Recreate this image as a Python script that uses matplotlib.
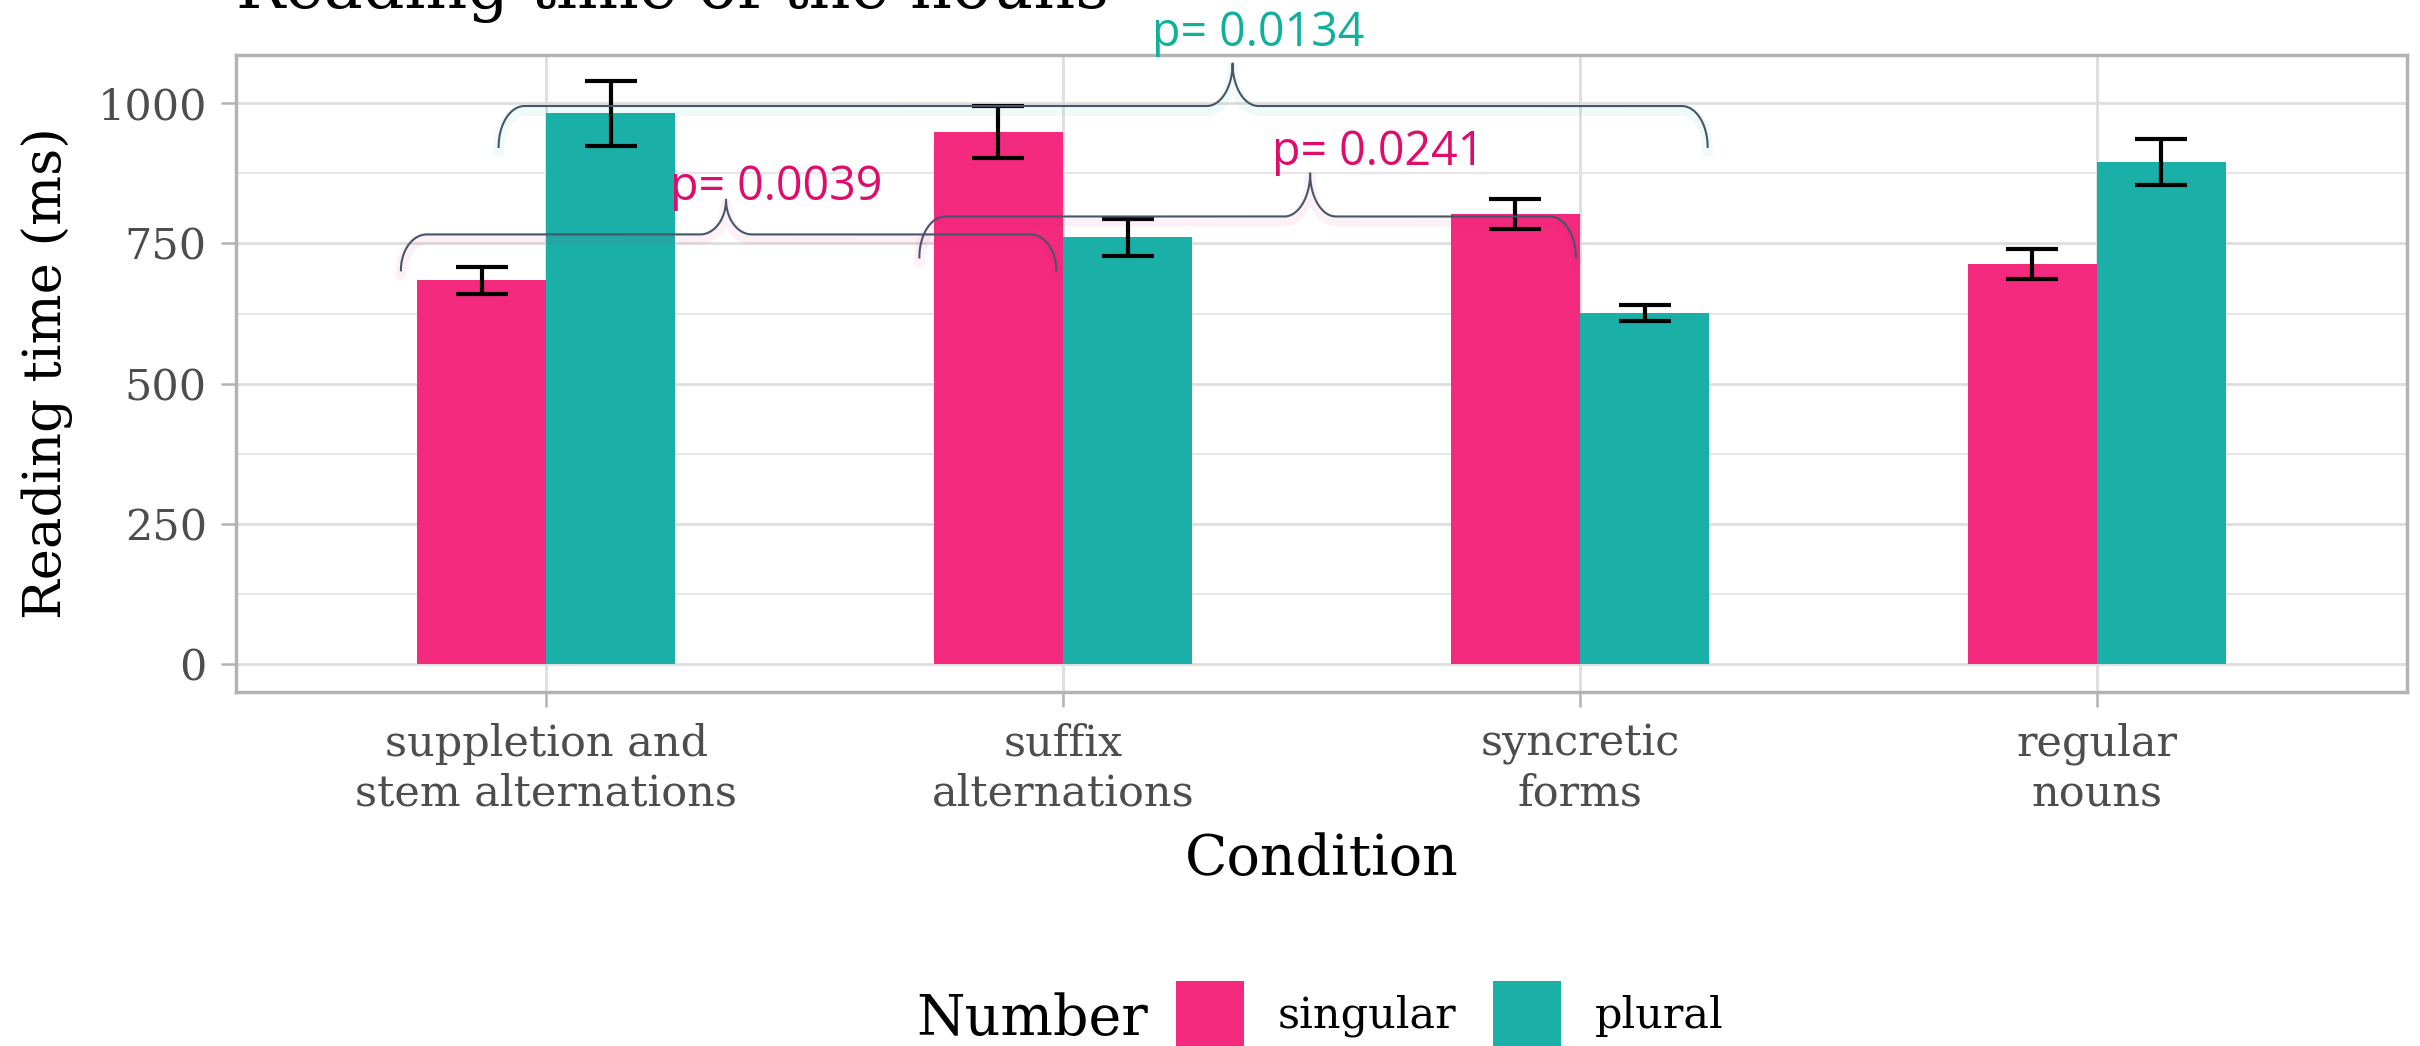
# reading time bar chart with p-value braces
import numpy as np
import matplotlib
matplotlib.use('Agg')
import matplotlib.pyplot as plt
from matplotlib.patches import Patch
from matplotlib.ticker import MultipleLocator

plt.rcParams['font.family'] = ['DejaVu Serif']

conditions = ['suppletion and\nstem alternations', 'suffix\nalternations',
              'syncretic\nforms', 'regular\nnouns']
number_levels = ['singular', 'plural']
singular_mean = [684, 949, 803, 713]
singular_se = [24, 46, 27, 27]
plural_mean = [982, 761, 626, 895]
plural_se = [58, 33, 14, 41]

# brace annotations: left end, right end, tip (x in category units), end / bar / tip heights
brace_labels = ['p= 0.0039', 'p= 0.0241', 'p= 0.0134']
brace_left = [0.719, 1.722, 0.908]
brace_right = [1.987, 2.992, 3.247]
brace_tip = [1.348, 2.478, 2.328]
brace_end_y = [702, 725, 922]
brace_bar_y = [766, 798, 995]
brace_tip_y = [828, 875, 1071]
label_x = [1.446, 2.61, 2.378]
label_y = [828, 889, 1102]

pink = '#F42A7F'
teal = '#1AAFA7'
pink_txt = '#DF0C6C'
teal_txt = '#10B09C'
label_colors = [pink_txt, pink_txt, teal_txt]
brace_col = '#46566B'


def brace_xy(x0, x1, xt, y_end, y_h, y_tip, dx=0.05):
	t = np.linspace(0, np.pi / 2, 40)
	xs = np.concatenate([
		x0 + dx - dx * np.cos(t),
		xt - dx + dx * np.sin(t),
		xt + dx * (1 - np.cos(t)),
		x1 - dx + dx * np.sin(t),
	])
	ys = np.concatenate([
		y_end + (y_h - y_end) * np.sin(t),
		y_tip - (y_tip - y_h) * np.cos(t),
		y_h + (y_tip - y_h) * (1 - np.sin(t)),
		y_end + (y_h - y_end) * np.cos(t),
	])
	return xs, ys


fig = plt.figure(figsize=(24.2, 10.46), dpi=100)
ax = fig.add_axes([236 / 2420, 1 - 692 / 1046, 2171 / 2420, 637 / 1046])

x = np.arange(1, len(conditions) + 1)
w = 0.25
ax.bar(x - w / 2, singular_mean, width=w, color=pink, zorder=3)
ax.bar(x + w / 2, plural_mean, width=w, color=teal, zorder=3)
ax.errorbar(x - w / 2, singular_mean, yerr=singular_se, fmt='none', ecolor='black',
            elinewidth=3.0, capsize=18.5, capthick=3.0, zorder=4)
ax.errorbar(x + w / 2, plural_mean, yerr=plural_se, fmt='none', ecolor='black',
            elinewidth=3.0, capsize=18.5, capthick=3.0, zorder=4)

for i in range(len(brace_labels)):
	bx, by = brace_xy(brace_left[i], brace_right[i], brace_tip[i],
	                  brace_end_y[i], brace_bar_y[i], brace_tip_y[i])
	# faint coloured shadow below the brace
	ax.plot(bx, by - 8, color=label_colors[i], lw=8, alpha=0.06, zorder=4,
	        clip_on=False, solid_capstyle='round')
	ax.plot(bx, by, color=brace_col, lw=1.5, zorder=5, clip_on=False)
	ax.text(label_x[i], label_y[i], brace_labels[i], color=label_colors[i],
	        family=['Open Sans', 'DejaVu Sans'], fontsize=33.5, ha='center',
	        va='baseline', zorder=6, clip_on=False)

ax.set_xlim(0.4, 4.6)
ax.set_ylim(-50, 1086)
ax.set_xticks(x)
ax.set_xticklabels(conditions, fontsize=31, color='#4D4D4D', linespacing=1.25)
ax.yaxis.set_major_locator(MultipleLocator(250))
ax.yaxis.set_minor_locator(MultipleLocator(125))
ax.tick_params(axis='y', which='major', labelsize=31, labelcolor='#4D4D4D',
               length=11, width=1.8, color='#B3B3B3', pad=10)
ax.tick_params(axis='x', which='major', length=11, width=1.8, color='#B3B3B3', pad=11)
ax.tick_params(axis='y', which='minor', length=0)

ax.grid(True, which='major', color='#DEDEDE', lw=2.0, zorder=0)
ax.grid(True, which='minor', axis='y', color='#E6E6E6', lw=1.4, zorder=0)
ax.set_axisbelow(True)
for s in ax.spines.values():
	s.set_color('#B3B3B3')
	s.set_linewidth(2.5)

ax.set_ylabel('Reading time (ms)', fontsize=38, va='center')
ax.yaxis.set_label_coords(-0.087, 0.5)
ax.set_xlabel('Condition', fontsize=40, va='baseline')
ax.xaxis.set_label_coords(0.5, -0.287)

fig.text(236 / 2420, 1 - 8 / 1046, 'Reading time of the nouns', fontsize=47,
         va='baseline', ha='left')

# legend at the bottom, title on the left
fig.text(916 / 2420, 1 - 1035 / 1046, 'Number', fontsize=40, va='baseline', ha='left')
handles = [Patch(facecolor=pink, edgecolor='none'), Patch(facecolor=teal, edgecolor='none')]
fig.legend(handles, number_levels, loc='upper left', bbox_to_anchor=(1176 / 2420, 1 - 981 / 1046),
           ncol=2, frameon=False, fontsize=31, handlelength=1.58, handleheight=2.0,
           handletextpad=0.79, columnspacing=0.84, borderpad=0, borderaxespad=0)

fig.savefig('out.png', dpi=100)
